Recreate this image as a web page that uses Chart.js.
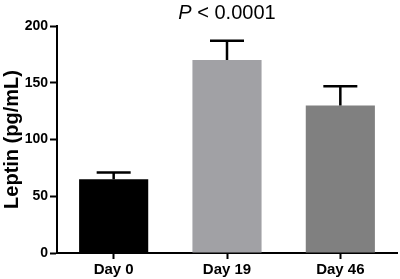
<!DOCTYPE html>
<html>
<head>
<meta charset="utf-8">
<script src="https://cdn.jsdelivr.net/npm/chart.js@4/dist/chart.umd.min.js"></script>
<style>
html,body{margin:0;padding:0;background:#fff;}
#wrap{width:400px;height:279px;}
</style>
</head>
<body>
<div id="wrap"><canvas id="c" width="400" height="279"></canvas></div>
<script>
const categories = ["Day 0", "Day 19", "Day 46"];
const leptinMean = [65, 170, 130];
const leptinSEM = [6, 17, 17];
const barColors = ["#000000", "#a1a1a5", "#808080"];
const yTicks = [0, 50, 100, 150, 200];
const titlePrefix = "P";
const titleRest = " < 0.0001";
const yLabel = "Leptin (pg/mL)";

const FONT = "Arial, 'Liberation Sans', Helvetica, sans-serif";

const errorBars = {
  id: 'errorBars',
  afterDatasetsDraw(chart) {
    const ctx = chart.ctx;
    const meta = chart.getDatasetMeta(0);
    const y = chart.scales.y;
    ctx.save();
    ctx.strokeStyle = '#000';
    ctx.lineWidth = 2.5;
    meta.data.forEach((bar, i) => {
      const x = bar.x;
      const y0 = y.getPixelForValue(leptinMean[i]);
      const y1 = y.getPixelForValue(leptinMean[i] + leptinSEM[i]);
      ctx.beginPath();
      ctx.moveTo(x, y0);
      ctx.lineTo(x, y1);
      ctx.moveTo(x - 17, y1);
      ctx.lineTo(x + 17, y1);
      ctx.stroke();
    });
    ctx.restore();
  }
};

const titlePlugin = {
  id: 'pTitle',
  afterDraw(chart) {
    const ctx = chart.ctx;
    const ca = chart.chartArea;
    ctx.save();
    ctx.fillStyle = '#000';
    ctx.textBaseline = 'alphabetic';
    const fItalic = "italic 20px " + FONT;
    const fNormal = "20px " + FONT;
    ctx.font = fItalic;
    const w1 = ctx.measureText(titlePrefix).width;
    ctx.font = fNormal;
    const w2 = ctx.measureText(titleRest).width;
    let x = (ca.left + ca.right) / 2 - (w1 + w2) / 2;
    const yb = 19;
    ctx.font = fItalic;
    ctx.fillText(titlePrefix, x, yb);
    ctx.font = fNormal;
    ctx.fillText(titleRest, x + w1, yb);
    ctx.restore();
  }
};

new Chart(document.getElementById('c'), {
  type: 'bar',
  data: {
    labels: categories,
    datasets: [{
      data: leptinMean,
      backgroundColor: barColors,
      borderWidth: 0,
      categoryPercentage: 1,
      barPercentage: 0.61
    }]
  },
  options: {
    responsive: false,
    animation: false,
    devicePixelRatio: 1,
    layout: { padding: { top: 26, right: 3, left: 0, bottom: 0 } },
    plugins: { legend: { display: false }, tooltip: { enabled: false }, title: { display: false } },
    scales: {
      x: {
        afterFit(s) { s.height = 26; },
        grid: { drawOnChartArea: false, offset: false, tickLength: 6, tickWidth: 2, tickColor: '#000' },
        border: { color: '#000', width: 2 },
        ticks: { color: '#000', font: { family: FONT, size: 15, weight: 'bold' }, padding: 2 }
      },
      y: {
        min: 0, max: 200,
        afterFit(s) { s.width = 57; },
        afterBuildTicks(s) { s.ticks = yTicks.map(v => ({ value: v })); },
        grid: { drawOnChartArea: false, tickLength: 7, tickWidth: 2, tickColor: '#000' },
        border: { color: '#000', width: 2 },
        ticks: { color: '#000', font: { family: FONT, size: 14, weight: 'bold' }, padding: 2 },
        title: { display: true, text: yLabel, color: '#000', font: { family: FONT, size: 20, weight: 'bold' }, padding: { top: 0, bottom: 0 } }
      }
    }
  },
  plugins: [errorBars, titlePlugin]
});
</script>
</body>
</html>
